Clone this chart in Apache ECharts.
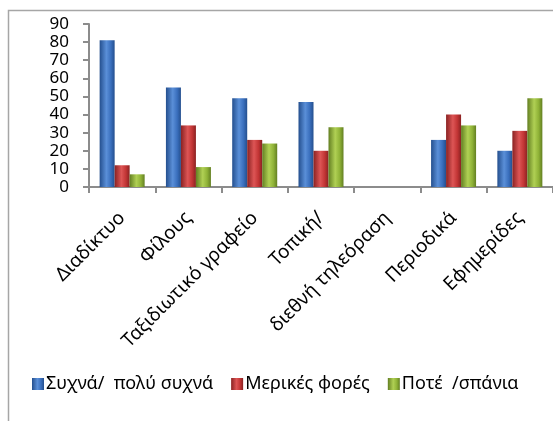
<!DOCTYPE html>
<html>
<head>
<meta charset="utf-8">
<script src="https://cdn.jsdelivr.net/npm/echarts@6/dist/echarts.min.js"></script>
<style>
  html, body { margin: 0; padding: 0; background: #fff; }
  #main { width: 553px; height: 421px; }
</style>
</head>
<body>
<div id="main"></div>
<script>
var categories = ['Διαδίκτυο', 'Φίλους', 'Ταξιδιωτικό γραφείο', 'Τοπική/', 'διεθνή τηλεόραση', 'Περιοδικά', 'Εφημερίδες'];
var seriesNames = ['Συχνά/  πολύ συχνά', 'Μερικές φορές', 'Ποτέ  /σπάνια'];
var often = [81, 55, 49, 47, null, 26, 20];
var sometimes = [12, 34, 26, 20, null, 40, 31];
var never = [7, 11, 24, 33, null, 34, 49];
var yTicks = [0, 10, 20, 30, 40, 50, 60, 70, 80, 90];

var font = 'Noto Sans';

function grad(dark, mid, light) {
    return new echarts.graphic.LinearGradient(0, 0, 1, 0, [
        { offset: 0, color: dark },
        { offset: 0.45, color: light },
        { offset: 0.75, color: mid },
        { offset: 1, color: dark }
    ]);
}

var myChart = echarts.init(document.getElementById('main'));

var option = {
    animation: false,
    backgroundColor: '#fff',
    textStyle: { fontFamily: font, color: '#000' },
    graphic: [{
        type: 'rect',
        shape: { x: 8.5, y: 10.5, width: 700, height: 700 },
        style: { fill: 'none', stroke: '#a6a6a6', lineWidth: 1.5 },
        silent: true
    }],
    grid: { left: 89, right: -5, top: 24, bottom: 234, containLabel: false },
    legend: {
        left: 27, top: 370,
        itemWidth: 12, itemHeight: 12, itemGap: 18,
        icon: 'rect',
        textStyle: { fontFamily: font, fontSize: 18, color: '#000', padding: [0, 0, 0, -3] },
        data: seriesNames
    },
    xAxis: {
        type: 'category',
        data: categories,
        axisLine: { lineStyle: { color: '#8c8c8c', width: 2 } },
        axisTick: { show: true, length: 6, lineStyle: { color: '#8c8c8c', width: 2 } },
        axisLabel: { rotate: 45, fontSize: 19, color: '#000', margin: 28, interval: 0 }
    },
    yAxis: {
        type: 'value',
        min: yTicks[0], max: yTicks[yTicks.length - 1], interval: 10,
        splitLine: { show: false },
        axisLine: { show: true, lineStyle: { color: '#8c8c8c', width: 2 } },
        axisTick: { show: true, length: 6, lineStyle: { color: '#8c8c8c', width: 2 } },
        axisLabel: {
            fontSize: 17, color: '#000', margin: 20,
            showMinLabel: true, showMaxLabel: true
        }
    },
    series: [{
        name: seriesNames[0], type: 'bar', data: often,
        barWidth: 15, barGap: '0%',
        itemStyle: { color: grad('#244f8e', '#3a6fbd', '#5a8fd8') }
    }, {
        name: seriesNames[1], type: 'bar', data: sometimes,
        barWidth: 15, barGap: '0%',
        itemStyle: { color: grad('#8a2222', '#c23535', '#dd5555') }
    }, {
        name: seriesNames[2], type: 'bar', data: never,
        barWidth: 15, barGap: '0%',
        itemStyle: { color: grad('#637f22', '#8fb237', '#b0d054') }
    }]
};

myChart.setOption(option);
</script>
</body>
</html>
